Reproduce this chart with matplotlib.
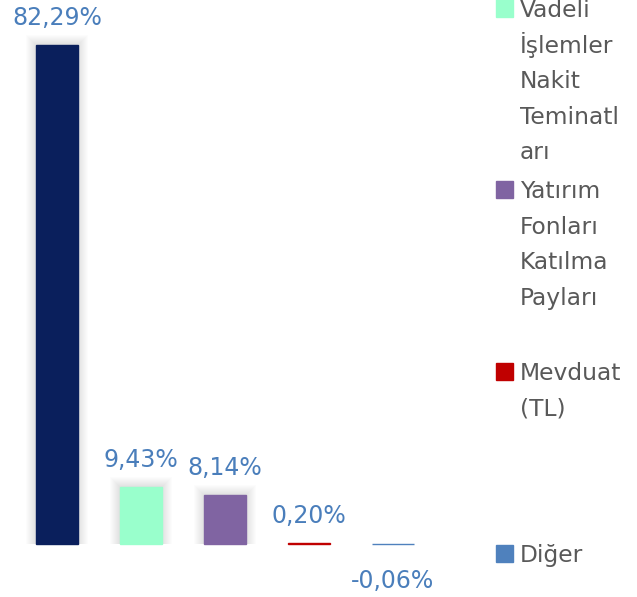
import matplotlib.pyplot as plt
from matplotlib.patches import Rectangle

plt.rcParams['font.family'] = ['DejaVu Sans']

# data
values = [82.29, 9.43, 8.14, 0.20, -0.06]
value_labels = ["82,29%", "9,43%", "8,14%", "0,20%", "-0,06%"]
colors = ["#0a1f5c", "#99ffcc", "#8064a2", "#c00000", "#4f81bd"]
legend_labels = [["Vadeli", "İşlemler", "Nakit", "Teminatl", "arı"],
                 ["Yatırım", "Fonları", "Katılma", "Payları"],
                 ["Mevduat", "(TL)"],
                 ["Diğer"]]
legend_colors = colors[1:]

W, H = 637, 597
fig = plt.figure(figsize=(W / 100, H / 100), dpi=100)

# axes placed in pixel units: x from 15 to 435, baseline at y=544
ymin, ymax = -8, 88
ppu = 6.06
top_px = 544 - ymax * ppu
bot_px = 544 - ymin * ppu
ax = fig.add_axes([15 / W, 1 - bot_px / H, 420 / W, (bot_px - top_px) / H])
ax.set_xlim(-0.5, 4.5)
ax.set_ylim(ymin, ymax)
ax.axis('off')

px_x = 5 / 420   # one pixel in x data units
px_y = 1 / ppu   # one pixel in y data units

x = list(range(len(values)))
# soft shadow behind the taller bars
for i, v in zip(x, values):
    if abs(v) < 1:
        continue
    for k in range(1, 11):
        ax.add_patch(Rectangle((i - 0.25 - k * px_x, 0), 0.5 + 2 * k * px_x, v + k * px_y,
                               color='black', alpha=0.013, lw=0, zorder=1))

bars = ax.bar(x, values, width=0.5, color=colors, edgecolor=colors, linewidth=1, zorder=2)

for i, (v, lab) in enumerate(zip(values, value_labels)):
    if v >= 0:
        ax.annotate(lab, (i, v), xytext=(0, 20), textcoords='offset pixels',
                    ha='center', va='baseline', fontsize=17, color='#4a7ebb',
                    annotation_clip=False)
    else:
        ax.annotate(lab, (i, v), xytext=(0, -44), textcoords='offset pixels',
                    ha='center', va='baseline', fontsize=17, color='#4a7ebb',
                    annotation_clip=False)

# legend drawn by hand (first entry is cut off above the image)
first_baseline = [17, 198, 380, 562]
line_step = 35.6
for lines, c, b0 in zip(legend_labels, legend_colors, first_baseline):
    fig.patches.append(Rectangle((496 / W, 1 - (b0 - 0.5) / H), 17 / W, 17 / H,
                                 transform=fig.transFigure, color=c, figure=fig))
    for j, line in enumerate(lines):
        fig.text(520 / W, 1 - (b0 + j * line_step) / H, line, ha='left', va='baseline',
                 fontsize=16.8, color='#595959')

fig.savefig("out.png", dpi=100)
